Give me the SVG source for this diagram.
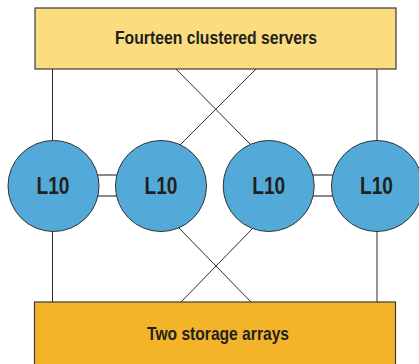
<svg xmlns="http://www.w3.org/2000/svg" width="419" height="364" viewBox="0 0 419 364">
  <style>
    .box { stroke: #3a3a3a; stroke-width: 1.2; }
    .node { fill: #53aad9; stroke: #333; stroke-width: 1; }
    .wire { stroke: #2b2b2b; stroke-width: 1; fill: none; }
    .link { stroke: #8a8a8a; stroke-width: 2; fill: none; }
    .lbl { font-family: "Liberation Sans", Arial, sans-serif; font-weight: bold; fill: #231f20; }
  </style>

  <!-- connectors -->
  <g id="connectors">
    <line class="wire" x1="52.5" y1="69" x2="52.5" y2="141"/>
    <line class="wire" x1="377" y1="69" x2="377" y2="141"/>
    <line class="wire" x1="52.5" y1="231" x2="52.5" y2="302"/>
    <line class="wire" x1="377" y1="231" x2="377" y2="302"/>
    <!-- crossed links to the servers -->
    <line class="wire" x1="176" y1="69" x2="251" y2="145"/>
    <line class="wire" x1="256" y1="69" x2="180" y2="145"/>
    <!-- crossed links to the storage -->
    <line class="wire" x1="178" y1="227" x2="251" y2="302"/>
    <line class="wire" x1="254" y1="227" x2="181" y2="302"/>
    <!-- paired links between neighbours -->
    <line class="link" x1="98" y1="175" x2="117" y2="175"/>
    <line class="link" x1="98" y1="196" x2="117" y2="196"/>
    <line class="link" x1="313" y1="175" x2="333" y2="175"/>
    <line class="link" x1="313" y1="196" x2="333" y2="196"/>
  </g>

  <g id="servers">
    <rect class="box" x="35" y="8" width="361" height="61" fill="#fbdc7e"/>
    <text class="lbl" x="216" y="44" font-size="19" text-anchor="middle" textLength="202" lengthAdjust="spacingAndGlyphs">Fourteen clustered servers</text>
  </g>

  <g id="storage">
    <rect class="box" x="34.5" y="302" width="361" height="66" fill="#f3b42a"/>
    <text class="lbl" x="218" y="339.5" font-size="19" text-anchor="middle" textLength="142" lengthAdjust="spacingAndGlyphs">Two storage arrays</text>
  </g>

  <g id="node1">
    <circle class="node" cx="53.5" cy="186" r="45.5"/>
    <text class="lbl" x="53" y="193.5" font-size="23" text-anchor="middle" textLength="33" lengthAdjust="spacingAndGlyphs">L10</text>
  </g>
  <g id="node2">
    <circle class="node" cx="161" cy="186" r="45.5"/>
    <text class="lbl" x="161" y="193.5" font-size="23" text-anchor="middle" textLength="33" lengthAdjust="spacingAndGlyphs">L10</text>
  </g>
  <g id="node3">
    <circle class="node" cx="268.7" cy="186" r="45.5"/>
    <text class="lbl" x="268.7" y="193.5" font-size="23" text-anchor="middle" textLength="33" lengthAdjust="spacingAndGlyphs">L10</text>
  </g>
  <g id="node4">
    <circle class="node" cx="377" cy="186" r="45.5"/>
    <text class="lbl" x="376.5" y="193.5" font-size="23" text-anchor="middle" textLength="33" lengthAdjust="spacingAndGlyphs">L10</text>
  </g>
</svg>
